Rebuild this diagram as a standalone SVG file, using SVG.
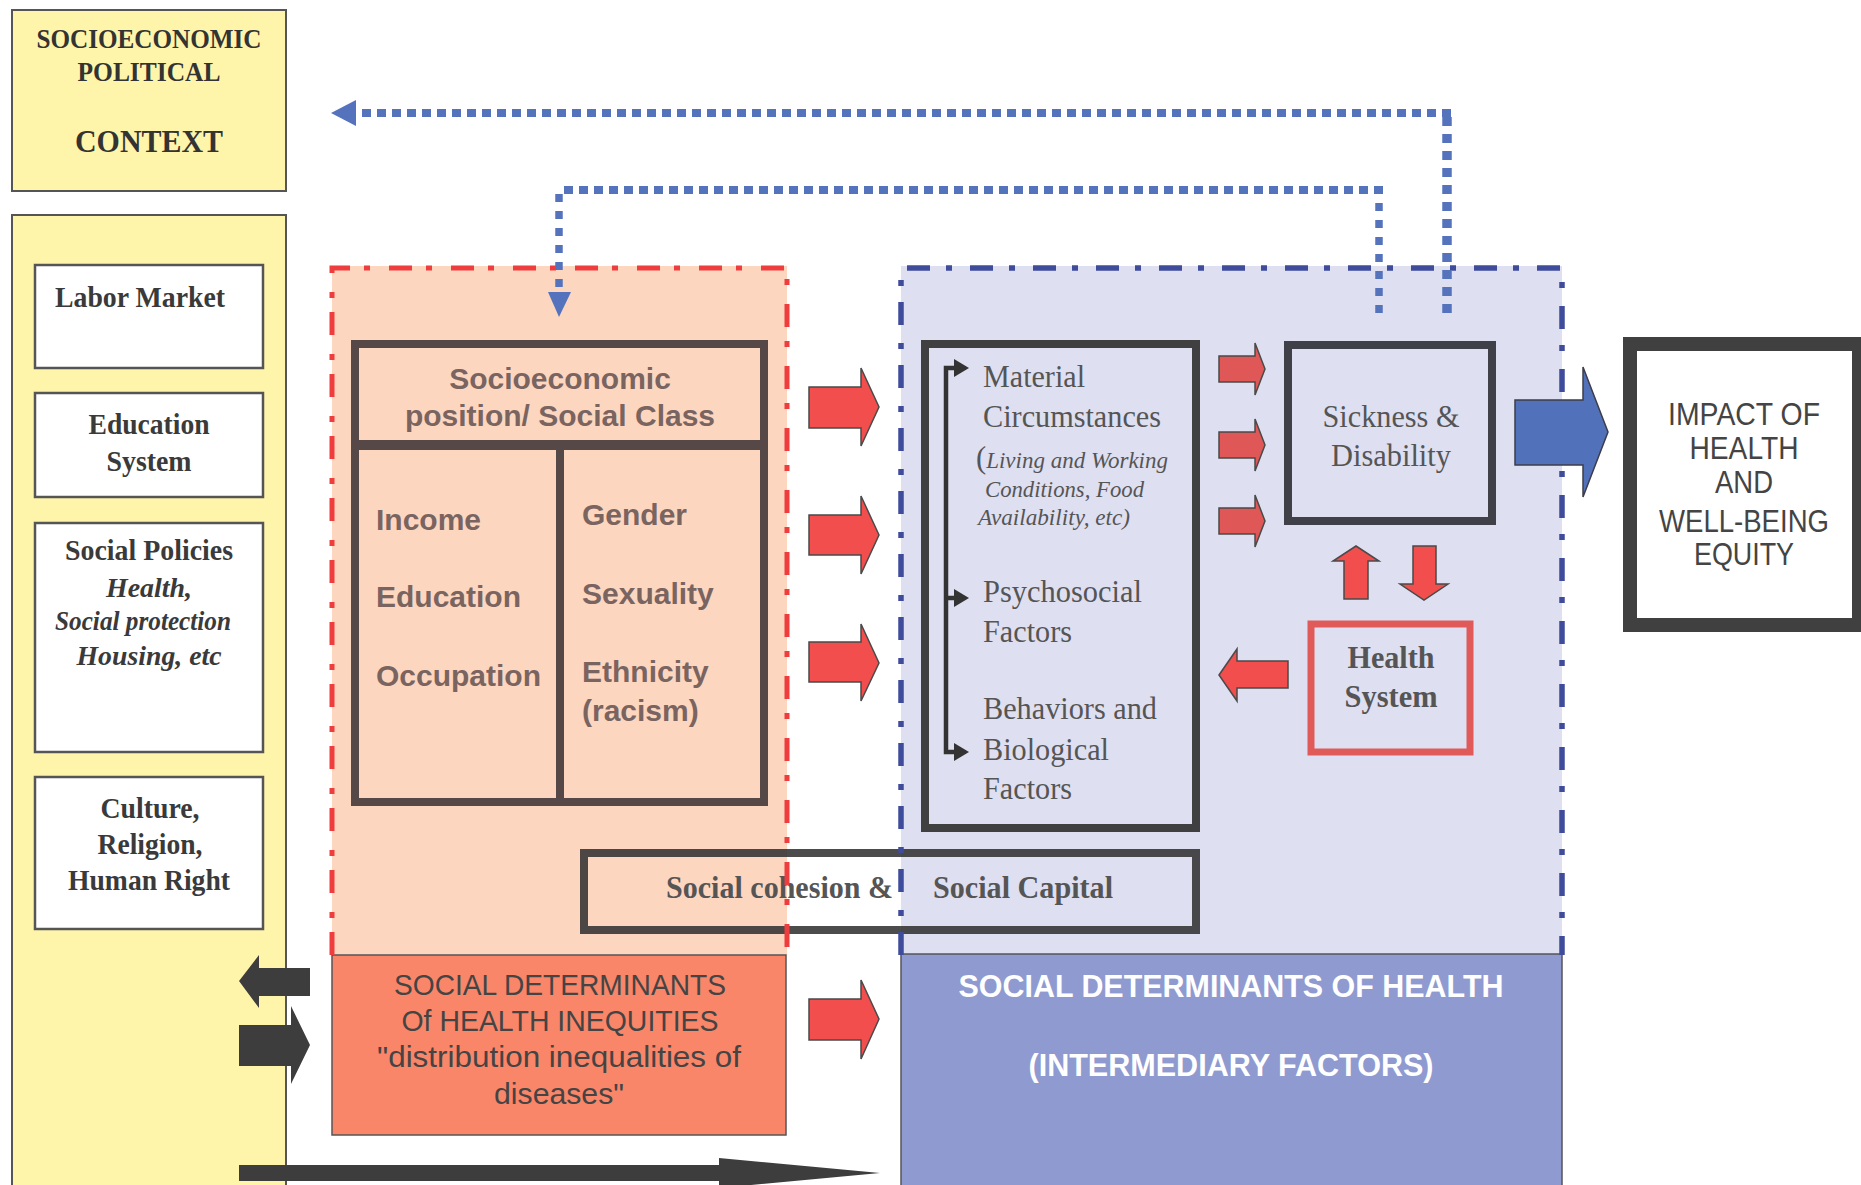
<svg xmlns="http://www.w3.org/2000/svg" width="1861" height="1185" viewBox="0 0 1861 1185">
<defs>
<style>
.serif{font-family:"Liberation Serif","Times New Roman",serif;}
.sans{font-family:"Liberation Sans",Arial,sans-serif;}
.ctx{fill:#fff5aa;stroke:#555;stroke-width:2;}
.wbox{fill:#fff;stroke:#555;stroke-width:2.5;}
.lt{font-family:"Liberation Serif","Times New Roman",serif;font-weight:bold;font-size:30px;fill:#3a3a3a;text-anchor:middle;}
.lti{font-style:italic;font-size:28px;}
.sep{font-family:"Liberation Sans",Arial,sans-serif;font-weight:bold;font-size:30px;fill:#7a6460;}
.mt{font-family:"Liberation Serif","Times New Roman",serif;font-size:32.5px;fill:#555;}
.mi{font-style:italic;font-size:24px;}
.ra{fill:#f24e4e;stroke:#4a4a4a;stroke-width:1.5;}
.ra2{fill:#df5757;stroke:#4a4a4a;stroke-width:1.5;}
.da{fill:#3d3d3d;}
.dot{fill:none;stroke:#5573bd;}
.ddred{fill:none;stroke:#ef3d3d;stroke-width:5;stroke-dasharray:23 14 6 19;}
.ddblue{fill:none;stroke:#3f4c9c;stroke-width:5.5;stroke-dasharray:23 16 6 18;}
.sc{font-family:"Liberation Sans",Arial,sans-serif;font-size:29px;fill:#444;text-anchor:middle;}
.imp{font-family:"Liberation Sans",Arial,sans-serif;font-size:30.5px;fill:#444;text-anchor:middle;}
</style>
</defs>

<!-- Context column -->
<g id="context">
  <rect class="ctx" x="12" y="10" width="274" height="181"/>
  <text class="serif" font-weight="bold" font-size="28" fill="#333" text-anchor="middle" x="149" y="48" textLength="225" lengthAdjust="spacingAndGlyphs">SOCIOECONOMIC</text>
  <text class="serif" font-weight="bold" font-size="28" fill="#333" text-anchor="middle" x="149" y="81" textLength="143" lengthAdjust="spacingAndGlyphs">POLITICAL</text>
  <text class="serif" font-weight="bold" font-size="32.5" fill="#333" text-anchor="middle" x="149" y="152" textLength="148" lengthAdjust="spacingAndGlyphs">CONTEXT</text>
</g>
<g id="policies">
  <rect class="ctx" x="12" y="215" width="274" height="990"/>
</g>
<g id="labor-market">
  <rect class="wbox" x="35" y="265" width="228" height="103"/>
  <text class="lt" x="55" y="307" style="text-anchor:start" textLength="170" lengthAdjust="spacingAndGlyphs">Labor Market</text>
</g>
<g id="education-system">
  <rect class="wbox" x="35" y="393" width="228" height="104"/>
  <text class="lt" x="149" y="434" textLength="121" lengthAdjust="spacingAndGlyphs">Education</text>
  <text class="lt" x="149" y="471" textLength="85" lengthAdjust="spacingAndGlyphs">System</text>
</g>
<g id="social-policies">
  <rect class="wbox" x="35" y="523" width="228" height="229"/>
  <text class="lt" x="149" y="560" textLength="168" lengthAdjust="spacingAndGlyphs">Social Policies</text>
  <text class="lt lti" x="149" y="597" textLength="86" lengthAdjust="spacingAndGlyphs">Health,</text>
  <text class="lt lti" x="143" y="630" textLength="176" lengthAdjust="spacingAndGlyphs">Social protection</text>
  <text class="lt lti" x="149" y="665" textLength="145" lengthAdjust="spacingAndGlyphs">Housing, etc</text>
</g>
<g id="culture">
  <rect class="wbox" x="35" y="777" width="228" height="152"/>
  <text class="lt" x="150" y="818" textLength="99" lengthAdjust="spacingAndGlyphs">Culture,</text>
  <text class="lt" x="150" y="854" textLength="105" lengthAdjust="spacingAndGlyphs">Religion,</text>
  <text class="lt" x="149" y="890" textLength="162" lengthAdjust="spacingAndGlyphs">Human Right</text>
</g>

<!-- Region fills -->
<g id="structural-region">
  <rect x="332" y="266" width="455" height="689" fill="#fdd6c0"/>
</g>
<g id="intermediary-region">
  <rect x="901" y="266" width="661" height="689" fill="#dedff1"/>
</g>

<g id="sd-inequities">
  <rect x="332" y="955" width="454" height="180" fill="#f98669" stroke="#555" stroke-width="1.5"/>
  <text class="sc" x="560" y="995" textLength="332" lengthAdjust="spacingAndGlyphs">SOCIAL DETERMINANTS</text>
  <text class="sc" x="560" y="1031" textLength="317" lengthAdjust="spacingAndGlyphs">Of HEALTH INEQUITIES</text>
  <text class="sc" x="559" y="1067" textLength="364" lengthAdjust="spacingAndGlyphs">"distribution inequalities of</text>
  <text class="sc" x="559" y="1104" textLength="130" lengthAdjust="spacingAndGlyphs">diseases"</text>
</g>
<g id="sd-health">
  <rect x="901" y="954" width="661" height="240" fill="#8f9ad0" stroke="#555" stroke-width="1.5"/>
  <text class="sans" font-weight="bold" font-size="31" fill="#fff" text-anchor="middle" x="1231" y="997" textLength="545" lengthAdjust="spacingAndGlyphs">SOCIAL DETERMINANTS OF HEALTH</text>
  <text class="sans" font-weight="bold" font-size="31" fill="#fff" text-anchor="middle" x="1231" y="1076" textLength="405" lengthAdjust="spacingAndGlyphs">(INTERMEDIARY FACTORS)</text>
</g>

<!-- Socioeconomic position -->
<g id="socioeconomic-position">
  <rect x="355" y="344" width="409" height="458" fill="none" stroke="#574848" stroke-width="8"/>
  <line x1="355" y1="445" x2="764" y2="445" stroke="#574848" stroke-width="10"/>
  <line x1="560" y1="445" x2="560" y2="802" stroke="#574848" stroke-width="8"/>
  <text class="sep" x="560" y="389" text-anchor="middle">Socioeconomic</text>
  <text class="sep" x="560" y="426" text-anchor="middle">position/ Social Class</text>
  <text class="sep" x="376" y="530">Income</text>
  <text class="sep" x="376" y="607">Education</text>
  <text class="sep" x="376" y="686">Occupation</text>
  <text class="sep" x="582" y="525">Gender</text>
  <text class="sep" x="582" y="604">Sexuality</text>
  <text class="sep" x="582" y="682">Ethnicity</text>
  <text class="sep" x="582" y="721">(racism)</text>
</g>

<!-- Material circumstances -->
<g id="material-circumstances">
  <rect x="925" y="344" width="271" height="484" fill="none" stroke="#404040" stroke-width="8"/>
  <path d="M957,368 H946 V752 H957 M946,598 H957" fill="none" stroke="#333" stroke-width="4.5"/>
  <polygon points="954,359 969,368 954,377" fill="#333"/>
  <polygon points="954,589 969,598 954,607" fill="#333"/>
  <polygon points="954,743 969,752 954,761" fill="#333"/>
  <text class="mt" x="983" y="387" textLength="102" lengthAdjust="spacingAndGlyphs">Material</text>
  <text class="mt" x="983" y="427" textLength="178" lengthAdjust="spacingAndGlyphs">Circumstances</text>
  <text class="mt mi" x="976" y="468" textLength="192" lengthAdjust="spacingAndGlyphs"><tspan font-size="32" font-style="normal">(</tspan>Living and Working</text>
  <text class="mt mi" x="985" y="497" textLength="159" lengthAdjust="spacingAndGlyphs">Conditions, Food</text>
  <text class="mt mi" x="978" y="525" textLength="152" lengthAdjust="spacingAndGlyphs">Availability, etc)</text>
  <text class="mt" x="983" y="602" textLength="159" lengthAdjust="spacingAndGlyphs">Psychosocial</text>
  <text class="mt" x="983" y="642" textLength="89" lengthAdjust="spacingAndGlyphs">Factors</text>
  <text class="mt" x="983" y="719" textLength="174" lengthAdjust="spacingAndGlyphs">Behaviors and</text>
  <text class="mt" x="983" y="760" textLength="126" lengthAdjust="spacingAndGlyphs">Biological</text>
  <text class="mt" x="983" y="799" textLength="89" lengthAdjust="spacingAndGlyphs">Factors</text>
</g>

<g id="sickness-disability">
  <rect x="1288" y="345" width="204" height="176" fill="none" stroke="#404048" stroke-width="8"/>
  <text class="mt" x="1391" y="427" text-anchor="middle" textLength="137" lengthAdjust="spacingAndGlyphs">Sickness &amp;</text>
  <text class="mt" x="1391" y="466" text-anchor="middle" textLength="120" lengthAdjust="spacingAndGlyphs">Disability</text>
</g>

<g id="health-system">
  <rect x="1311" y="624" width="159" height="128" fill="none" stroke="#e05a5a" stroke-width="7"/>
  <text class="mt" font-weight="bold" fill="#444" x="1391" y="668" text-anchor="middle" textLength="87" lengthAdjust="spacingAndGlyphs">Health</text>
  <text class="mt" font-weight="bold" fill="#444" x="1391" y="707" text-anchor="middle" textLength="93" lengthAdjust="spacingAndGlyphs">System</text>
</g>

<g id="impact">
  <rect x="1630" y="344" width="229" height="281" fill="#fff" stroke="#404040" stroke-width="14"/>
  <text class="imp" x="1744" y="425" textLength="152" lengthAdjust="spacingAndGlyphs">IMPACT OF</text>
  <text class="imp" x="1744" y="459" textLength="109" lengthAdjust="spacingAndGlyphs">HEALTH</text>
  <text class="imp" x="1744" y="493" textLength="58" lengthAdjust="spacingAndGlyphs">AND</text>
  <text class="imp" x="1744" y="532" textLength="170" lengthAdjust="spacingAndGlyphs">WELL-BEING</text>
  <text class="imp" x="1744" y="565" textLength="100" lengthAdjust="spacingAndGlyphs">EQUITY</text>
</g>

<g id="social-cohesion">
  <rect x="584" y="853" width="612" height="77" fill="none" stroke="#333" stroke-opacity="0.88" stroke-width="8"/>
  <text class="serif" font-weight="bold" font-size="32" fill="#555" x="666" y="898" textLength="227" lengthAdjust="spacingAndGlyphs">Social cohesion &amp;</text>
  <text class="serif" font-weight="bold" font-size="32" fill="#555" x="933" y="898" textLength="180" lengthAdjust="spacingAndGlyphs">Social Capital</text>
</g>

<!-- Region borders (drawn over) -->
<g id="region-borders">
  <path class="ddred" d="M332,955 V268 H787 V955"/>
  <path class="ddblue" d="M901,955 V268 H1562 V955"/>
</g>

<!-- Connectors -->
<g id="connectors">
  <!-- outer feedback dotted line -->
  <line class="dot" x1="1447" y1="313" x2="1447" y2="117" stroke-width="9.5" stroke-dasharray="9 8"/>
  <line class="dot" x1="1451" y1="113" x2="352" y2="113" stroke-width="8" stroke-dasharray="9 6"/>
  <polygon points="331,113 356,100 356,126" fill="#5573bd"/>
  <!-- inner feedback dotted line -->
  <line class="dot" x1="1379" y1="313" x2="1379" y2="194" stroke-width="7.5" stroke-dasharray="8 9"/>
  <line class="dot" x1="1383" y1="190" x2="559" y2="190" stroke-width="8" stroke-dasharray="9 6"/>
  <line class="dot" x1="559" y1="194" x2="559" y2="290" stroke-width="7.5" stroke-dasharray="8 9"/>
  <polygon points="548,292 571,292 559,317" fill="#5573bd"/>

  <!-- red block arrows structural -> intermediary -->
  <polygon class="ra" points="809,387 861,387 861,368 879,407 861,446 861,428 809,428"/>
  <polygon class="ra" points="809,515 861,515 861,496 879,535 861,574 861,555 809,555"/>
  <polygon class="ra" points="809,642 861,642 861,624 879,663 861,701 861,682 809,682"/>
  <polygon class="ra" points="809,999 861,999 861,980 879,1019 861,1059 861,1040 809,1040"/>

  <!-- small arrows material -> sickness -->
  <polygon class="ra2" points="1219,356 1255,356 1255,343 1265,369 1255,395 1255,382 1219,382"/>
  <polygon class="ra2" points="1219,432 1255,432 1255,419 1265,445 1255,471 1255,458 1219,458"/>
  <polygon class="ra2" points="1219,508 1255,508 1255,495 1265,521 1255,547 1255,534 1219,534"/>

  <!-- up / down between sickness and health system -->
  <polygon class="ra" points="1356,546 1379,561 1368,561 1368,599 1344,599 1344,561 1333,561"/>
  <polygon class="ra" points="1413,546 1436,546 1436,584 1448,584 1424,600 1400,584 1413,584"/>

  <!-- health system -> material -->
  <polygon class="ra" points="1219,675 1237,649 1237,661 1288,661 1288,688 1237,688 1237,701"/>

  <!-- blue arrow to impact -->
  <polygon points="1515,400 1583,400 1583,367 1608,432 1583,497 1583,465 1515,465" fill="#5271bb" stroke="#3d3d4a" stroke-width="1.5"/>

  <!-- dark arrows context <-> inequities -->
  <polygon class="da" points="239,981 259,955 259,968 310,968 310,996 259,996 259,1008"/>
  <polygon class="da" points="239,1025 291,1025 291,1006 310,1045 291,1084 291,1066 239,1066"/>

  <!-- bottom long arrow -->
  <polygon class="da" points="239,1165 719,1165 719,1158 880,1173 719,1188 719,1181 239,1181"/>
</g>
</svg>
